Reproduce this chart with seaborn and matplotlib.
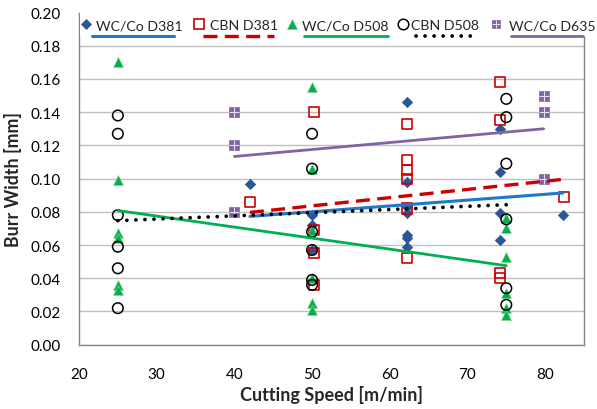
import numpy as np
import pandas as pd
import matplotlib
matplotlib.use("Agg")
import matplotlib.pyplot as plt
from matplotlib.lines import Line2D
from matplotlib.patches import Rectangle
import seaborn as sns

# ---------------- data ----------------
series_names = ["WC/Co D381", "CBN D381", "WC/Co D508", "CBN D508", "WC/Co D635"]

wc381_x = [42, 50, 50, 50, 62.2, 62.2, 62.2, 62.2, 62.2, 62.2, 62.2, 74.2, 74.2, 74.2, 74.2, 82.3]
wc381_y = [0.097, 0.078, 0.072, 0.057, 0.146, 0.098, 0.083, 0.079, 0.066, 0.064, 0.059,
           0.130, 0.104, 0.079, 0.063, 0.078]

cbn381_x = [42, 50.2, 50.2, 50.2, 50.2, 62.2, 62.2, 62.2, 62.2, 62.2, 62.2, 74.2, 74.2, 74.2, 74.2, 82.4]
cbn381_y = [0.086, 0.140, 0.069, 0.055, 0.036, 0.133, 0.111, 0.105, 0.100, 0.082, 0.052,
            0.158, 0.135, 0.043, 0.040, 0.089]

wc508_x = [25] * 6 + [50] * 6 + [75] * 6
wc508_y = [0.170, 0.099, 0.067, 0.064, 0.036, 0.033,
           0.155, 0.106, 0.069, 0.040, 0.025, 0.021,
           0.076, 0.070, 0.053, 0.031, 0.022, 0.018]

cbn508_x = [25] * 6 + [50] * 6 + [75] * 6
cbn508_y = [0.138, 0.127, 0.078, 0.059, 0.046, 0.022,
            0.127, 0.106, 0.068, 0.057, 0.039, 0.036,
            0.148, 0.137, 0.109, 0.0755, 0.034, 0.024]

wc635_x = [40, 40, 40, 79.8, 79.8, 79.8]
wc635_y = [0.140, 0.120, 0.080, 0.150, 0.140, 0.100]

x_ticks = [20, 30, 40, 50, 60, 70, 80]
y_ticks = [0.00, 0.02, 0.04, 0.06, 0.08, 0.10, 0.12, 0.14, 0.16, 0.18, 0.20]
x_label = "Cutting Speed [m/min]"
y_label = "Burr Width [mm]"

frames = []
for name, xs, ys in zip(series_names,
                        [wc381_x, cbn381_x, wc508_x, cbn508_x, wc635_x],
                        [wc381_y, cbn381_y, wc508_y, cbn508_y, wc635_y]):
    frames.append(pd.DataFrame({"speed": xs, "burr": ys, "series": name}))
df = pd.concat(frames, ignore_index=True)

# ---------------- style ----------------
sns.set_style("white")
FONT = ["Lato", "DejaVu Sans"]
plt.rcParams["font.family"] = FONT

W, H = 597, 410
fig = plt.figure(figsize=(W / 100, H / 100), dpi=100)
ax = fig.add_axes([79 / W, 1 - 345.7 / H, (584 - 79) / W, (345.7 - 13.5) / H])

marker_styles = {
    "WC/Co D381": dict(marker="D", color="#2A5597", edgecolor="#2A5597", s=28, linewidth=0.5),
    "CBN D381": dict(marker="s", color="#CC0000", facecolor="none", edgecolor="#CC0000", s=52, linewidth=1.2),
    "WC/Co D508": dict(marker="^", color="#00B050", edgecolor="#7FD17F", s=50, linewidth=0.5),
    "CBN D508": dict(marker="o", color="black", facecolor="none", edgecolor="black", s=58, linewidth=1.1),
    "WC/Co D635": dict(marker="s", color="#8064A2", edgecolor="#8064A2", s=44, linewidth=0.5),
}
line_styles = {
    "WC/Co D381": dict(color="#1F78C8", lw=2.2, ls="-"),
    "CBN D381": dict(color="#CC0000", lw=2.4, ls=(0, (4.2, 2.2))),
    "WC/Co D508": dict(color="#00B050", lw=2.0, ls="-"),
    "CBN D508": dict(color="black", lw=2.7, ls=(0, (0.01, 2.4)), dash_capstyle="round"),
    "WC/Co D635": dict(color="#8064A2", lw=2.0, ls="-"),
}

for name in series_names:
    sub = df[df["series"] == name]
    sns.scatterplot(data=sub, x="speed", y="burr", ax=ax, legend=False, zorder=3,
                    **marker_styles[name])
    if name == "WC/Co D635":
        sns.scatterplot(data=sub, x="speed", y="burr", ax=ax, legend=False, zorder=3.1,
                        marker="+", color="#E6E0EE", s=44, linewidth=0.8)

for name in series_names:
    sub = df[df["series"] == name]
    sns.regplot(data=sub, x="speed", y="burr", ax=ax, scatter=False, ci=None,
                truncate=True, line_kws=dict(zorder=4, **line_styles[name]))

ax.set_xlim(20, 85)
ax.set_ylim(0, 0.20)
ax.set_xticks(x_ticks)
ax.set_yticks(y_ticks)
ax.set_yticklabels([f"{v:.2f}" for v in y_ticks])
ax.yaxis.grid(True, color="#BFBFBF", lw=1.0)
ax.xaxis.grid(False)
ax.set_axisbelow(True)
for side in ["left", "bottom", "right", "top"]:
    ax.spines[side].set_color("#868686")
    ax.spines[side].set_linewidth(1.0)
ax.tick_params(axis="both", which="both", direction="out", length=4, width=0.8,
               color="#868686", labelsize=11, labelcolor="black", pad=4)
ax.tick_params(axis="x", pad=12)
ax.tick_params(axis="y", pad=9)
ax.set_xlabel(x_label, fontsize=13, fontweight="bold", labelpad=3)
ax.set_ylabel(y_label, fontsize=12.8, fontweight="bold", labelpad=6)

# ---------------- legend (Excel-like, inside top) ----------------
def fx(px):
    return px / W

def fy(py):
    return 1 - py / H

fig.patches.append(Rectangle((fx(79.5), fy(38)), fx(597) - fx(79.5), fy(8) - fy(38),
                             transform=fig.transFigure, facecolor="white",
                             edgecolor="none", zorder=5))

leg_marker_x = [85.7, 198.8, 292.0, 402.7, 496.0]
leg_text_x = [96.0, 209.8, 302.3, 411.0, 508.7]
leg_line_x = [(92.2, 174.3), (203.0, 273.6), (304.2, 387.5), (415.7, 478.0), (510.6, 583.0)]
leg_marker_size = {"D": 5.0, "s": 7.0, "^": 7.0, "o": 7.6}

for i, name in enumerate(series_names):
    ms = marker_styles[name]
    mk = ms["marker"]
    size = leg_marker_size.get(mk, 6)
    if name == "WC/Co D635":
        size = 6.4
    fc = ms.get("facecolor", ms["color"])
    fig.add_artist(Line2D([fx(leg_marker_x[i])], [fy(25)], marker=mk, markersize=size,
                          markerfacecolor=fc, markeredgecolor=ms["edgecolor"],
                          markeredgewidth=ms["linewidth"], linestyle="none",
                          transform=fig.transFigure, zorder=6))
    if name == "WC/Co D635":
        fig.add_artist(Line2D([fx(leg_marker_x[i])], [fy(25)], marker="+", markersize=6.4,
                              markeredgecolor="#E6E0EE", markeredgewidth=0.8, linestyle="none",
                              transform=fig.transFigure, zorder=6.1))
    fig.text(fx(leg_text_x[i]), fy(30.5), name, fontsize=10.2, va="baseline", ha="left",
             zorder=6)
    x0, x1 = leg_line_x[i]
    lk = dict(line_styles[name])
    fig.add_artist(Line2D([fx(x0), fx(x1)], [fy(36.5), fy(36.5)], transform=fig.transFigure,
                          zorder=6, **lk))

fig.savefig("out.png", dpi=100)
